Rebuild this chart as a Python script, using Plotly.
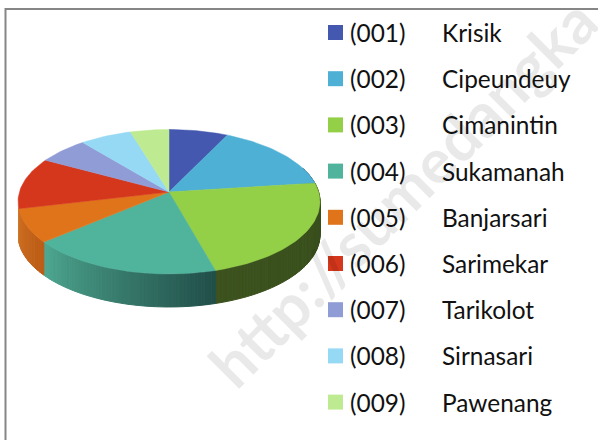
import math
import plotly.graph_objects as go

codes = ["(001)", "(002)", "(003)", "(004)", "(005)", "(006)", "(007)", "(008)", "(009)"]
names = ["Krisik", "Cipeundeuy", "Cimanintin", "Sukamanah", "Banjarsari",
         "Sarimekar", "Tarikolot", "Sirnasari", "Pawenang"]
values = [7.2, 15.8, 22.7, 18.2, 7.5, 11.6, 6.1, 6.3, 4.7]
colors = ["#4358AE", "#4FB0D5", "#93CF47", "#50B39B", "#E0741B",
          "#D5371C", "#8F9CD6", "#96D9F4", "#BEEB91"]
# wall shading: (colour at the clockwise-first end, colour at the clockwise-last end)
wall_start = [(40, 52, 105), (48, 105, 128), (56, 78, 28), (33, 78, 72), (188, 92, 22),
              (128, 33, 17), (86, 94, 128), (90, 130, 146), (114, 141, 87)]
wall_end = [(40, 52, 105), (48, 105, 128), (60, 82, 30), (78, 168, 145), (204, 112, 34),
            (128, 33, 17), (86, 94, 128), (90, 130, 146), (114, 141, 87)]

# Pixel-space view of the tilted disc
CX, CY = 169.0, 192.0
A, B, K = 149.6, 70.9, 0.135
DEPTH = 33.0


def project(theta_deg, drop=0.0):
    t = math.radians(theta_deg)
    X, Y = math.sin(t), math.cos(t)
    w = 1 + K * Y
    return CX + A * X / w, CY - B * Y / w + drop


fig = go.Figure()
total = sum(values)
edges = [0.0]
for v in values:
    edges.append(edges[-1] + v / total * 360)

# side wall, drawn as narrow shaded strips
for i, color in enumerate(colors):
    a0, a1 = edges[i], edges[i + 1]
    n = max(1, int((a1 - a0) / 1.2))
    for s in range(n):
        t0 = a0 + (a1 - a0) * s / n
        t1 = a0 + (a1 - a0) * (s + 1) / n
        mid = (s + 0.5) / n
        tm = (t0 + t1) / 2
        limit = 0.35 if tm < 180 else -0.23
        if math.cos(math.radians(tm)) > limit:
            continue
        rgb = [round(p + (q - p) * mid) for p, q in zip(wall_start[i], wall_end[i])]
        c = f"rgb({rgb[0]},{rgb[1]},{rgb[2]})"
        pts = [project(t0), project(t1), project(t1, DEPTH), project(t0, DEPTH), project(t0)]
        fig.add_trace(go.Scatter(x=[p[0] for p in pts], y=[p[1] for p in pts], mode="lines",
                                 fill="toself", fillcolor=c, line=dict(color=c, width=1),
                                 hoverinfo="skip", showlegend=False))

# top faces
for i, color in enumerate(colors):
    a0, a1 = edges[i], edges[i + 1]
    n = max(2, int((a1 - a0) / 1.5))
    arc = [project(a0 + (a1 - a0) * s / n) for s in range(n + 1)]
    pts = [(CX, CY)] + arc + [(CX, CY)]
    fig.add_trace(go.Scatter(x=[p[0] for p in pts], y=[p[1] for p in pts], mode="lines",
                             fill="toself", fillcolor=color, line=dict(color=color, width=0.5),
                             name=names[i], hoverinfo="name", showlegend=False))

# legend
LEG_Y0, LEG_DY = 32.5, 46.2
leg_y = [LEG_Y0 + LEG_DY * i for i in range(len(names))]
fig.add_trace(go.Scatter(x=[335.5] * len(names), y=leg_y, mode="markers",
                         marker=dict(symbol="square", size=15, color=colors, line=dict(width=0)),
                         hoverinfo="skip", showlegend=False))

annotations = [dict(text="<b>http://sumedangka</b>", x=402, y=192, xref="x", yref="y",
                    textangle=-45, showarrow=False, xanchor="center", yanchor="middle",
                    font=dict(family="Lato", size=62, color="rgba(0,0,0,0.085)"))]
for y, code, name in zip(leg_y, codes, names):
    annotations.append(dict(text=code, x=348, y=y, xref="x", yref="y", showarrow=False,
                            xanchor="left", yanchor="middle",
                            font=dict(family="Lato", size=24.4, color="#111111")))
    annotations.append(dict(text=name, x=440, y=y, xref="x", yref="y", showarrow=False,
                            xanchor="left", yanchor="middle",
                            font=dict(family="Lato", size=24.4, color="#111111")))

fig.update_layout(
    width=598, height=440, margin=dict(l=0, r=0, t=0, b=0),
    paper_bgcolor="white", plot_bgcolor="white", showlegend=False,
    xaxis=dict(range=[0, 598], visible=False, fixedrange=True),
    yaxis=dict(range=[440, 0], visible=False, fixedrange=True),
    annotations=annotations,
    shapes=[dict(type="rect", xref="x", yref="y", x0=5.5, y0=9, x1=640, y1=480,
                 line=dict(color="#868686", width=2), layer="below")],
)
fig.write_html("out.html", config={"displayModeBar": False},
               post_script="document.body.style.margin='0';document.body.style.overflow='hidden';")
